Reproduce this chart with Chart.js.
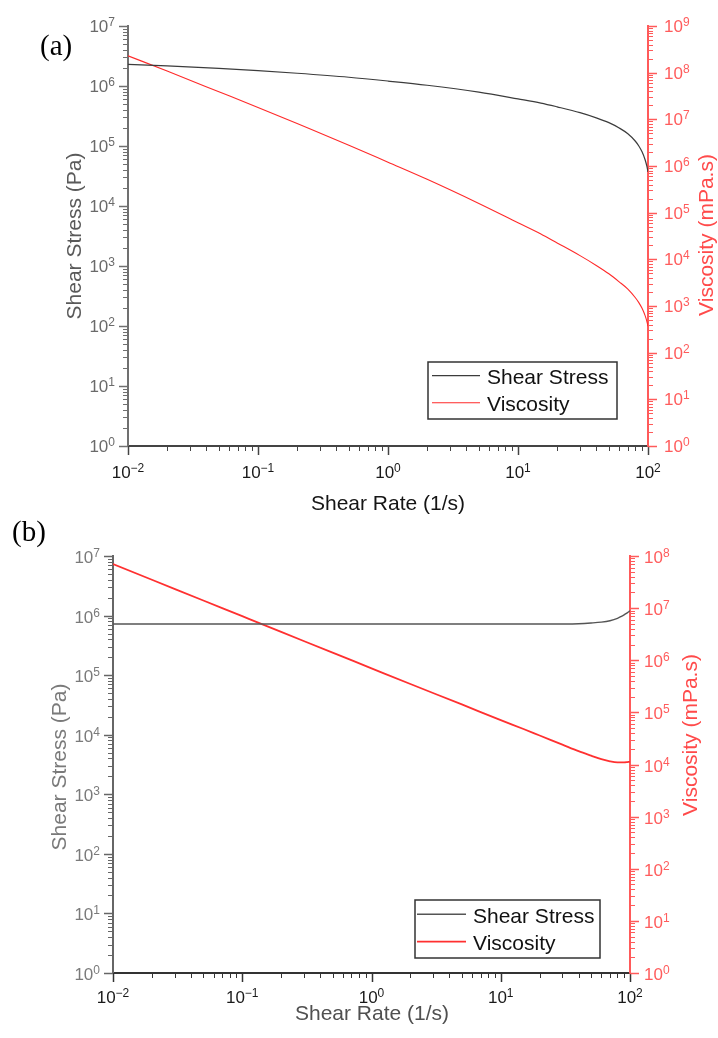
<!DOCTYPE html>
<html>
<head>
<meta charset="utf-8">
<script src="https://cdn.jsdelivr.net/npm/chart.js@4.4.1/dist/chart.umd.min.js"></script>
<style>
  html, body { margin: 0; padding: 0; background: #fff; }
  body { width: 718px; height: 1038px; position: relative; overflow: hidden; }
  canvas { position: absolute; left: 0; }
  #chartA { top: 0; }
  #chartB { top: 519px; }
</style>
</head>
<body>
<canvas id="chartA" width="718" height="519"></canvas>
<canvas id="chartB" width="718" height="519"></canvas>
<script>
// Shear rate sample points (1/s)
const shearRate = [0.01, 0.02, 0.05, 0.1, 0.2, 0.5, 1, 2, 5, 10, 15, 20, 30, 40, 50, 60, 70, 80, 85, 90, 95, 98, 100];

// (a) shear stress (Pa) and viscosity (mPa.s)
const stressA = [2.30e6, 2.17e6, 1.97e6, 1.80e6, 1.63e6, 1.40e6, 1.21e6, 1.03e6, 7.9e5, 6.1e5, 5.2e5, 4.5e5,
                 3.6e5, 2.95e5, 2.45e5, 2.0e5, 1.6e5, 1.2e5, 1.0e5, 8.0e4, 5.9e4, 4.6e4, 3.7e4];
const viscosityA = [2.3e8, 1.08e8, 3.9e7, 1.8e7, 8.1e6, 2.8e6, 1.21e6, 5.2e5, 1.58e5, 6.1e4, 3.5e4, 2.25e4,
                    1.2e4, 7.4e3, 4.9e3, 3.3e3, 2.3e3, 1.5e3, 1.18e3, 890, 620, 470, 370];

// (b) shear stress (Pa) and viscosity (mPa.s)
const stressB = [7.2e5, 7.2e5, 7.2e5, 7.2e5, 7.2e5, 7.2e5, 7.2e5, 7.2e5, 7.2e5, 7.2e5, 7.2e5, 7.2e5,
                 7.22e5, 7.3e5, 7.5e5, 7.75e5, 8.2e5, 9.0e5, 9.6e5, 1.03e6, 1.11e6, 1.16e6, 1.2e6];
const viscosityB = [7.0e7, 3.5e7, 1.4e7, 7.0e6, 3.5e6, 1.4e6, 7.0e5, 3.5e5, 1.42e5, 7.1e4, 4.8e4, 3.6e4,
                    2.4e4, 1.8e4, 1.48e4, 1.27e4, 1.15e4, 1.1e4, 1.1e4, 1.1e4, 1.11e4, 1.12e4, 1.13e4];

// Decade exponents for the tick labels
const rateExponents = [-2, -1, 0, 1, 2];
const stressExponents = [0, 1, 2, 3, 4, 5, 6, 7];
const viscExponentsA = [0, 1, 2, 3, 4, 5, 6, 7, 8, 9];
const viscExponentsB = [0, 1, 2, 3, 4, 5, 6, 7, 8];

const SANS = '"Liberation Sans", Arial, sans-serif';
const SERIF = '"Liberation Serif", "Times New Roman", serif';

function expText(e) {
    return e < 0 ? '\u2212' + Math.abs(e) : String(e);
}

// ticks (major + 2..9 minor) and 10^n labels along one log axis
function drawLogAxis(ctx, scale, ax) {
    const tick = (v, len, w) => {
        const p = Math.round(scale.getPixelForValue(v)) + 0.5;
        ctx.lineWidth = w;
        ctx.beginPath();
        if (ax.side === 'left') {
            ctx.moveTo(scale.right - len, p); ctx.lineTo(scale.right, p);
        } else if (ax.side === 'right') {
            ctx.moveTo(scale.left, p); ctx.lineTo(scale.left + len, p);
        } else {
            ctx.moveTo(p, scale.top); ctx.lineTo(p, scale.top + len);
        }
        ctx.stroke();
    };

    ctx.strokeStyle = ax.color;
    ax.exponents.forEach((e, i) => {
        const major = Math.pow(10, e);
        tick(major, 9, 1.5);
        if (i < ax.exponents.length - 1) {
            for (let m = 2; m <= 9; m++) tick(m * major, 5, 1);
        }

        const p = scale.getPixelForValue(major);
        const exp = expText(e);
        ctx.font = '17px ' + SANS;
        const wb = ctx.measureText('10').width;
        ctx.font = '12px ' + SANS;
        const we = ctx.measureText(exp).width;
        let x, by, ey;
        if (ax.side === 'left') {
            x = scale.right - ax.gap - wb - we; by = p + ax.baseDy; ey = p + ax.expDy;
        } else if (ax.side === 'right') {
            x = scale.left + ax.gap; by = p + ax.baseDy; ey = p + ax.expDy;
        } else {
            x = p - (wb + we) / 2; by = scale.top + ax.baseDy; ey = scale.top + ax.expDy;
        }
        ctx.fillStyle = ax.labelColor;
        ctx.textAlign = 'left';
        ctx.textBaseline = 'alphabetic';
        ctx.font = '17px ' + SANS;
        ctx.fillText('10', x, by);
        ctx.font = '12px ' + SANS;
        ctx.fillText(exp, x + wb, ey);
    });
}

function decorPlugin(cfg) {
    return {
        id: 'decor',
        afterDraw(chart) {
            const ctx = chart.ctx;
            ctx.save();
            cfg.axes.forEach(ax => drawLogAxis(ctx, chart.scales[ax.id], ax));

            // axis titles and panel tag
            cfg.texts.forEach(t => {
                ctx.save();
                ctx.translate(t.x, t.y);
                if (t.rotate) ctx.rotate(-Math.PI / 2);
                ctx.font = t.font;
                ctx.fillStyle = t.color;
                ctx.textAlign = t.align || 'center';
                ctx.textBaseline = 'alphabetic';
                ctx.fillText(t.text, 0, 0);
                ctx.restore();
            });

            // legend box
            const lg = cfg.legend;
            ctx.strokeStyle = '#333';
            ctx.lineWidth = 1.5;
            ctx.strokeRect(lg.box[0], lg.box[1], lg.box[2] - lg.box[0], lg.box[3] - lg.box[1]);
            chart.data.datasets.forEach((ds, i) => {
                const y = lg.rows[i];
                ctx.strokeStyle = ds.borderColor;
                ctx.lineWidth = ds.borderWidth;
                ctx.beginPath();
                ctx.moveTo(lg.lineX[0], y);
                ctx.lineTo(lg.lineX[1], y);
                ctx.stroke();
                ctx.fillStyle = '#111';
                ctx.font = '21px ' + SANS;
                ctx.textAlign = 'left';
                ctx.fillText(ds.label, lg.textX, y + 8.3);
            });
            ctx.restore();
        }
    };
}

function logScale(min, max, position, color, fit) {
    return {
        type: 'logarithmic',
        position: position,
        min: min,
        max: max,
        ticks: { display: false },
        grid: { display: false },
        border: { display: true, color: color, width: 2 },
        afterFit: fit
    };
}

function makeChart(id, cfg) {
    new Chart(document.getElementById(id), {
        type: 'line',
        data: {
            datasets: [
                {
                    label: 'Shear Stress',
                    data: shearRate.map((x, i) => ({ x: x, y: cfg.stress[i] })),
                    borderColor: cfg.stressColor,
                    borderWidth: cfg.stressWidth,
                    yAxisID: 'y',
                    pointRadius: 0,
                    fill: false,
                    cubicInterpolationMode: 'monotone'
                },
                {
                    label: 'Viscosity',
                    data: shearRate.map((x, i) => ({ x: x, y: cfg.viscosity[i] })),
                    borderColor: cfg.viscColor,
                    borderWidth: cfg.viscWidth,
                    yAxisID: 'y2',
                    pointRadius: 0,
                    fill: false,
                    cubicInterpolationMode: 'monotone'
                }
            ]
        },
        options: {
            responsive: false,
            animation: false,
            layout: { padding: { top: cfg.area.top, left: 0, right: 0, bottom: 0 } },
            plugins: { legend: { display: false }, tooltip: { enabled: false } },
            scales: {
                x: logScale(0.01, 100, 'bottom', cfg.xAxisColor, s => { s.height = 519 - cfg.area.bottom; }),
                y: logScale(1, 1e7, 'left', cfg.leftColor, s => { s.width = cfg.area.left; }),
                y2: logScale(1, cfg.viscMax, 'right', '#ff5a5a', s => { s.width = 718 - cfg.area.right; })
            }
        },
        plugins: [decorPlugin(cfg)]
    });
}

// (a)
makeChart('chartA', {
    stress: stressA, viscosity: viscosityA, viscMax: 1e9,
    stressColor: '#3c3c3c', stressWidth: 1.2, viscColor: '#ff2a2a', viscWidth: 1.1,
    area: { left: 128, right: 648, top: 26, bottom: 446 },
    xAxisColor: '#444', leftColor: '#707070',
    axes: [
        { id: 'x', side: 'bottom', exponents: rateExponents, color: '#444', labelColor: '#1a1a1a', baseDy: 32, expDy: 25.5 },
        { id: 'y', side: 'left', exponents: stressExponents, color: '#707070', labelColor: '#6a6a6a', gap: 13, baseDy: 6, expDy: 0 },
        { id: 'y2', side: 'right', exponents: viscExponentsA, color: '#ff5a5a', labelColor: '#ff5c5c', gap: 16, baseDy: 6, expDy: 0 }
    ],
    texts: [
        { text: 'Shear Rate (1/s)', x: 388, y: 510, font: '21px ' + SANS, color: '#151515' },
        { text: 'Shear Stress (Pa)', x: 81, y: 236, rotate: true, font: '21px ' + SANS, color: '#5a5a5a' },
        { text: 'Viscosity (mPa.s)', x: 713, y: 235, rotate: true, font: '21px ' + SANS, color: '#ff4a4a' },
        { text: '(a)', x: 40, y: 55, align: 'left', font: '29px ' + SERIF, color: '#000' }
    ],
    legend: { box: [428, 362, 617, 419], rows: [375.7, 402.7], lineX: [432, 480], textX: 487 }
});

// (b)
makeChart('chartB', {
    stress: stressB, viscosity: viscosityB, viscMax: 1e8,
    stressColor: '#555', stressWidth: 1.4, viscColor: '#ff3030', viscWidth: 1.8,
    area: { left: 113, right: 630, top: 37, bottom: 454 },
    xAxisColor: '#333', leftColor: '#666',
    axes: [
        { id: 'x', side: 'bottom', exponents: rateExponents, color: '#333', labelColor: '#1a1a1a', baseDy: 30, expDy: 23.5 },
        { id: 'y', side: 'left', exponents: stressExponents, color: '#666', labelColor: '#7a7a7a', gap: 13, baseDy: 7, expDy: 1 },
        { id: 'y2', side: 'right', exponents: viscExponentsB, color: '#ff5a5a', labelColor: '#ff5c5c', gap: 14, baseDy: 7, expDy: 1 }
    ],
    texts: [
        { text: 'Shear Rate (1/s)', x: 372, y: 501, font: '21px ' + SANS, color: '#505050' },
        { text: 'Shear Stress (Pa)', x: 66, y: 248, rotate: true, font: '21px ' + SANS, color: '#7a7a7a' },
        { text: 'Viscosity (mPa.s)', x: 697, y: 216, rotate: true, font: '21px ' + SANS, color: '#ff4a4a' },
        { text: '(b)', x: 12, y: 22, align: 'left', font: '29px ' + SERIF, color: '#000' }
    ],
    legend: { box: [415, 381, 600, 439], rows: [395.3, 422.7], lineX: [417, 466], textX: 473 }
});
</script>
</body>
</html>
